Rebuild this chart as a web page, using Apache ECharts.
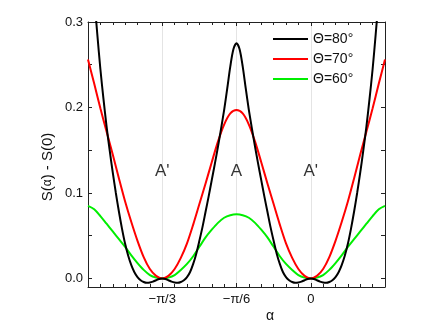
<!DOCTYPE html>
<html>
<head>
<meta charset="utf-8">
<script src="https://cdn.jsdelivr.net/npm/echarts@6/dist/echarts.min.js"></script>
<style>
  html, body { margin: 0; padding: 0; background: #fff; }
  #chart { width: 436px; height: 327px; }
</style>
</head>
<body>
<div id="chart"></div>
<script>
// alpha in degrees, -90 (= -pi/2) .. 30 (= pi/6)
// black curve is read on a finer 1.25 deg grid, red and green on a 2.5 deg grid
const alphaFine = Array.from({ length: 97 }, (_, i) => -90 + 1.25 * i)
const alphaCoarse = Array.from({ length: 49 }, (_, i) => -90 + 2.5 * i)

const theta80 = [0.43, 0.38, 0.33, 0.286, 0.245, 0.21, 0.178, 0.15, 0.124, 0.1, 0.078, 0.058, 0.0405,
  0.0265, 0.0155, 0.0072, 0.0015, -0.0021, -0.0042, -0.0051, -0.0048, -0.0037, -0.0021, -0.0006, 0,
  -0.0006, -0.0021, -0.0037, -0.0048, -0.0051, -0.0042, -0.0021, 0.0015, 0.0075, 0.017, 0.029, 0.044,
  0.06, 0.078, 0.096, 0.115, 0.134, 0.154, 0.175, 0.197, 0.222, 0.248, 0.268, 0.275,
  0.268, 0.248, 0.222, 0.197, 0.175, 0.154, 0.134, 0.115, 0.096, 0.078, 0.06, 0.044, 0.029, 0.017,
  0.0075, 0.0015, -0.0021, -0.0042, -0.0051, -0.0048, -0.0037, -0.0021, -0.0006, 0,
  -0.0006, -0.0021, -0.0037, -0.0048, -0.0051, -0.0042, -0.0021, 0.0015, 0.0072, 0.0155, 0.0265,
  0.0405, 0.058, 0.078, 0.1, 0.124, 0.15, 0.178, 0.21, 0.245, 0.286, 0.33, 0.38, 0.43]

const theta70 = [0.256, 0.228, 0.199, 0.172, 0.145, 0.117, 0.09, 0.066, 0.044, 0.025, 0.011, 0.003, 0,
  0.003, 0.011, 0.024, 0.041, 0.063, 0.087, 0.111, 0.136, 0.16, 0.18, 0.193, 0.197,
  0.193, 0.18, 0.16, 0.136, 0.111, 0.087, 0.063, 0.041, 0.024, 0.011, 0.003, 0,
  0.003, 0.011, 0.025, 0.044, 0.066, 0.09, 0.117, 0.145, 0.172, 0.199, 0.228, 0.256]

const theta60 = [0.085, 0.081, 0.073, 0.064, 0.055, 0.046, 0.037, 0.027, 0.018, 0.01, 0.004, 0.001, 0,
  0.001, 0.004, 0.01, 0.017, 0.026, 0.037, 0.048, 0.057, 0.065, 0.071, 0.074, 0.075,
  0.074, 0.071, 0.065, 0.057, 0.048, 0.037, 0.026, 0.017, 0.01, 0.004, 0.001, 0,
  0.001, 0.004, 0.01, 0.018, 0.027, 0.037, 0.046, 0.055, 0.064, 0.073, 0.081, 0.085]

const seriesNames = ['Θ=80°', 'Θ=70°', 'Θ=60°']
const seriesColors = ['#000000', '#ff0000', '#00ee00']

const xTickValues = [-60, -30, 0]
const xTickLabels = ['−π/3', '−π/6', '0']
const yTicks = [0, 0.05, 0.1, 0.15, 0.2, 0.25, 0.3]
const yLabels = [0, 0.1, 0.2, 0.3]

const regionNames = ["A'", 'A', "A'"]
const regionX = [-60, -30, 0]
const regionY = 0.125

const font = 'Liberation Sans, Arial, sans-serif'

const chart = echarts.init(document.getElementById('chart'), null, { renderer: 'canvas' })

const toPairs = (xs, ys) => xs.map((x, i) => [x, ys[i]])

const xAxisBase = {
  type: 'value',
  min: -90,
  max: 30,
  interval: 30,
  axisLine: { show: true, onZero: false, lineStyle: { color: '#222', width: 1 } },
  axisTick: { show: true, inside: true, length: 4, lineStyle: { color: '#222' } },
  minorTick: { show: true, splitNumber: 6, length: 3, lineStyle: { color: '#222' } },
}

const yAxisBase = {
  type: 'value',
  min: -0.01,
  max: 0.3,
  axisLine: { show: true, onZero: false, lineStyle: { color: '#222', width: 1 } },
  axisTick: { show: true, inside: true, length: 4, customValues: yTicks, lineStyle: { color: '#222' } },
  splitLine: { show: false },
}

const option = {
  animation: false,
  backgroundColor: '#fff',
  grid: { left: 88, right: 51, top: 22, bottom: 40, outerBoundsMode: 'none' },
  xAxis: [
    {
      ...xAxisBase,
      position: 'bottom',
      axisLabel: {
        show: true,
        margin: 6,
        color: '#111',
        fontFamily: font,
        fontSize: 13,
        showMinLabel: true,
        showMaxLabel: true,
        formatter: (v) => {
          const i = xTickValues.indexOf(v)
          return i >= 0 ? xTickLabels[i] : ''
        },
      },
      splitLine: { show: true, lineStyle: { color: '#e4e4e4', width: 1 } },
    },
    {
      ...xAxisBase,
      position: 'top',
      axisLabel: { show: false },
      splitLine: { show: false },
    },
  ],
  yAxis: [
    {
      ...yAxisBase,
      position: 'left',
      axisLabel: {
        show: true,
        margin: 5,
        color: '#111',
        fontFamily: font,
        fontSize: 13,
        customValues: yLabels,
        formatter: (v) => v.toFixed(1),
      },
    },
    {
      ...yAxisBase,
      position: 'right',
      axisLabel: { show: false },
    },
  ],
  legend: {
    data: seriesNames,
    orient: 'vertical',
    left: 273,
    top: 32,
    padding: 0,
    itemWidth: 35,
    itemHeight: 2,
    itemGap: 6,
    icon: 'rect',
    textStyle: { fontFamily: font, fontSize: 14, color: '#111' },
  },
  graphic: [
    {
      type: 'text',
      x: 48,
      y: 167,
      rotation: Math.PI / 2,
      style: {
        text: 'S({a|α}) - S(0)',
        rich: { a: { fontSize: 12, fontFamily: font, fill: '#111' } },
        font: '15px ' + font,
        fill: '#111',
        textAlign: 'center',
        textVerticalAlign: 'middle',
      },
    },
    {
      type: 'text',
      x: 270,
      y: 316,
      style: {
        text: 'α',
        font: '14px ' + font,
        fill: '#111',
        textAlign: 'center',
        textVerticalAlign: 'middle',
      },
    },
  ],
  series: [
    ...[
      [alphaFine, theta80],
      [alphaCoarse, theta70],
      [alphaCoarse, theta60],
    ].map(([xs, ys], k) => ({
      name: seriesNames[k],
      type: 'line',
      data: toPairs(xs, ys),
      smooth: 0.3,
      showSymbol: false,
      clip: true,
      color: seriesColors[k],
      lineStyle: { color: seriesColors[k], width: 2 },
      z: 3 - k,
    })),
    {
      name: 'labels',
      type: 'scatter',
      symbolSize: 0,
      silent: true,
      data: regionX.map((x, i) => ({ value: [x, regionY], name: regionNames[i] })),
      label: {
        show: true,
        position: 'inside',
        formatter: (p) => p.name,
        fontFamily: font,
        fontSize: 17,
        color: '#000',
      },
    },
  ],
}

option && chart.setOption(option)
</script>
</body>
</html>
